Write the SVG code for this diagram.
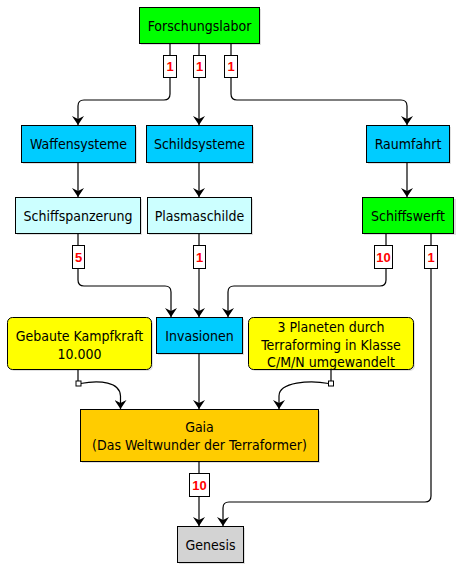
<svg xmlns="http://www.w3.org/2000/svg" width="459" height="568" viewBox="0 0 459 568">
<style>
.n{stroke:#000;stroke-width:1}
.sh{fill:#000;opacity:0.12}
.t{font-family:"DejaVu Sans Condensed","DejaVu Sans",sans-serif;font-stretch:condensed;font-size:14px;fill:#000;text-anchor:middle}
.e{fill:none;stroke:#000;stroke-width:1.2}
.lb{fill:#fff;stroke:#000;stroke-width:1}
.lt{font-family:"Liberation Sans",Arial,sans-serif;font-size:13px;font-weight:bold;fill:#ff0000;text-anchor:middle}
.sq{fill:#fff;stroke:#000;stroke-width:1}
</style>
<defs>
<marker id="a" markerWidth="12" markerHeight="12" refX="9" refY="6" orient="auto" markerUnits="userSpaceOnUse" viewBox="0 0 12 12">
<path d="M0,0 L9,6 L0,12 L3,6 Z" fill="#000"/>
</marker>
</defs>
<rect width="459" height="568" fill="#fff"/>
<g id="connectors">
<path class="e" d="M170,43 V94 Q170,100 164,100 H84 Q78,100 78,106 V125" marker-end="url(#a)"/>
<path class="e" d="M199,43 V125" marker-end="url(#a)"/>
<path class="e" d="M231,43 V94 Q231,100 237,100 H401 Q407,100 407,106 V125" marker-end="url(#a)"/>
<path class="e" d="M78,162 V197" marker-end="url(#a)"/>
<path class="e" d="M199,162 V197" marker-end="url(#a)"/>
<path class="e" d="M407,162 V197" marker-end="url(#a)"/>
<path class="e" d="M78,233 V280 Q78,286 84,286 H165 Q171,286 171,292 V317" marker-end="url(#a)"/>
<path class="e" d="M199,233 V317" marker-end="url(#a)"/>
<path class="e" d="M386,233 V280 Q386,286 380,286 H234 Q228,286 228,292 V317" marker-end="url(#a)"/>
<path class="e" d="M431,233 V496 Q431,502 425,502 H229 Q223,502 223,508 V526" marker-end="url(#a)"/>
<path class="e" d="M199,353 V409" marker-end="url(#a)"/>
<path class="e" d="M78,369 V381"/>
<path class="e" d="M80.5,383.5 C100,380 120,382 120.5,396 V409" marker-end="url(#a)"/>
<rect class="sq" x="76" y="381" width="5" height="5"/>
<path class="e" d="M331,369 V381"/>
<path class="e" d="M328.5,383.5 C310,380 279,382 279,396 V409" marker-end="url(#a)"/>
<rect class="sq" x="328.5" y="381" width="5" height="5"/>
<path class="e" d="M199,461 V526" marker-end="url(#a)"/>
<rect class="lb" x="163.5" y="55.5" width="13" height="22"/><text class="lt" x="170" y="71">1</text>
<rect class="lb" x="193.5" y="55.5" width="12" height="22"/><text class="lt" x="199.5" y="71">1</text>
<rect class="lb" x="224.5" y="55.5" width="13" height="22"/><text class="lt" x="231" y="71">1</text>
<rect class="lb" x="72.5" y="245.5" width="12" height="23"/><text class="lt" x="78.5" y="261.5">5</text>
<rect class="lb" x="193.5" y="245.5" width="12" height="23"/><text class="lt" x="199.5" y="261.5">1</text>
<rect class="lb" x="374.5" y="245.5" width="18" height="23"/><text class="lt" x="383.5" y="261.5">10</text>
<rect class="lb" x="424.5" y="245.5" width="13" height="23"/><text class="lt" x="431" y="261.5">1</text>
<rect class="lb" x="189.5" y="473.5" width="20" height="23"/><text class="lt" x="199.5" y="489.5">10</text>
</g>
<g id="forschungslabor">
<rect class="sh" x="141" y="9" width="120" height="36"/>
<rect class="n" x="139.5" y="7.5" width="120" height="36" fill="#00ff00"/>
<text class="t" x="199.5" y="30.5">Forschungslabor</text>
</g>
<g id="waffensysteme">
<rect class="sh" x="23" y="127" width="114" height="37"/>
<rect class="n" x="21.5" y="125.5" width="114" height="37" fill="#00ccff"/>
<text class="t" x="78.5" y="149">Waffensysteme</text>
</g>
<g id="schildsysteme">
<rect class="sh" x="148" y="127" width="106" height="37"/>
<rect class="n" x="146.5" y="125.5" width="106" height="37" fill="#00ccff"/>
<text class="t" x="199.5" y="149">Schildsysteme</text>
</g>
<g id="raumfahrt">
<rect class="sh" x="368" y="127" width="83" height="37"/>
<rect class="n" x="366.5" y="125.5" width="83" height="37" fill="#00ccff"/>
<text class="t" x="408" y="149">Raumfahrt</text>
</g>
<g id="schiffspanzerung">
<rect class="sh" x="17" y="199" width="125" height="36"/>
<rect class="n" x="15.5" y="197.5" width="125" height="36" fill="#ccffff"/>
<text class="t" x="78" y="220.5">Schiffspanzerung</text>
</g>
<g id="plasmaschilde">
<rect class="sh" x="149" y="199" width="104" height="36"/>
<rect class="n" x="147.5" y="197.5" width="104" height="36" fill="#ccffff"/>
<text class="t" x="199.5" y="220.5">Plasmaschilde</text>
</g>
<g id="schiffswerft">
<rect class="sh" x="364" y="199" width="92" height="36"/>
<rect class="n" x="362.5" y="197.5" width="91" height="36" fill="#00ff00"/>
<text class="t" x="408" y="220.5">Schiffswerft</text>
</g>
<g id="invasionen">
<rect class="sh" x="158" y="319" width="86" height="36"/>
<rect class="n" x="156.5" y="317.5" width="86" height="36" fill="#00ccff"/>
<text class="t" x="199.5" y="340.5">Invasionen</text>
</g>
<g id="kampfkraft">
<rect class="sh" x="9" y="319" width="144" height="52" rx="5"/>
<rect class="n" x="7.5" y="317.5" width="144" height="52" rx="5" fill="#ffff00"/>
<text class="t" x="79.5" y="341">Gebaute Kampfkraft</text>
<text class="t" x="79.5" y="358.5">10.000</text>
</g>
<g id="planeten">
<rect class="sh" x="250" y="319" width="165" height="52" rx="5"/>
<rect class="n" x="248.5" y="317.5" width="165" height="52" rx="5" fill="#ffff00"/>
<text class="t" x="331" y="332">3 Planeten durch</text>
<text class="t" x="331" y="349.5">Terraforming in Klasse</text>
<text class="t" x="331" y="367">C/M/N umgewandelt</text>
</g>
<g id="gaia">
<rect class="sh" x="82" y="411" width="238" height="52"/>
<rect class="n" x="80.5" y="409.5" width="238" height="52" fill="#ffcc00"/>
<text class="t" x="199.5" y="432">Gaia</text>
<text class="t" x="199.5" y="450">(Das Weltwunder der Terraformer)</text>
</g>
<g id="genesis">
<rect class="sh" x="179" y="528" width="66" height="36"/>
<rect class="n" x="177.5" y="526.5" width="66" height="36" fill="#d3d3d3"/>
<text class="t" x="210.5" y="549.5">Genesis</text>
</g>
</svg>
